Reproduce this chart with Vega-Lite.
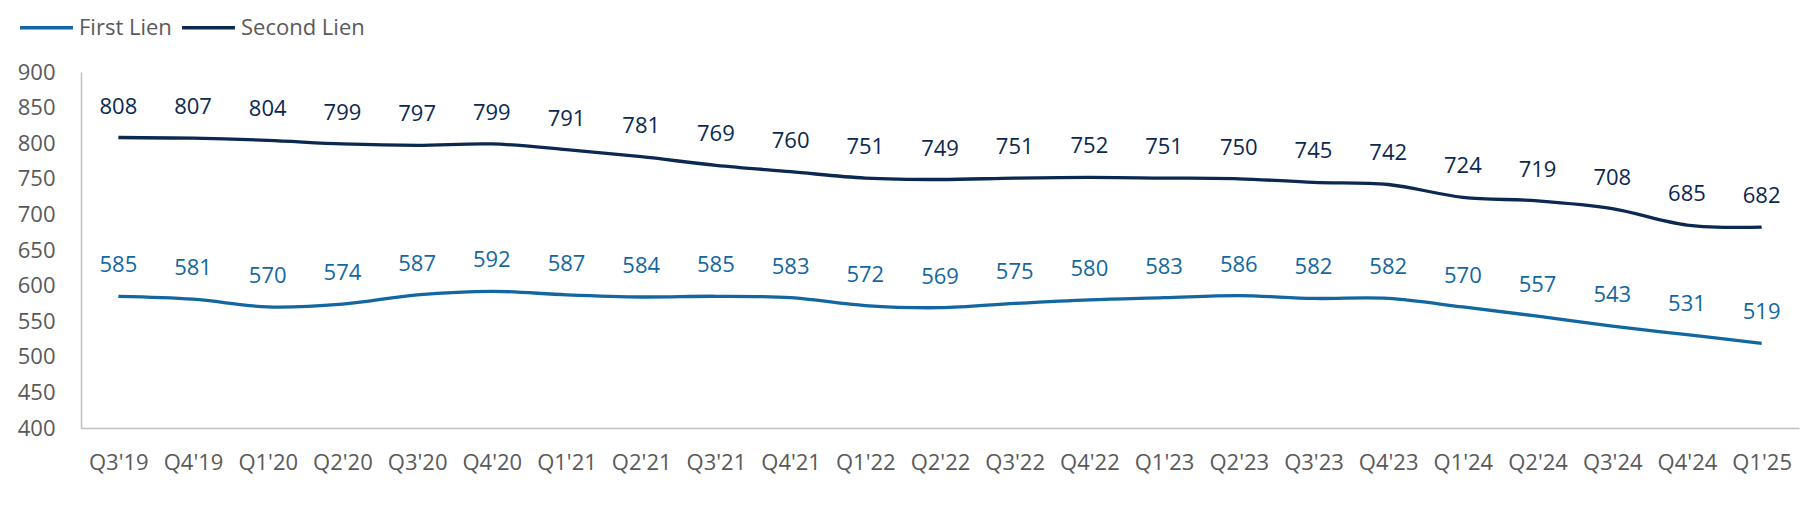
{
  "$schema": "https://vega.github.io/schema/vega-lite/v6.json",
  "width": 1718,
  "height": 356,
  "autosize": "none",
  "padding": {"left": 81, "top": 72, "right": 11, "bottom": 102},
  "background": "white",
  "config": {
    "view": {"stroke": null},
    "font": "Open Sans"
  },
  "data": {
    "values": [
      {"q": "Q3'19", "s": "First Lien", "v": 585}, {"q": "Q3'19", "s": "Second Lien", "v": 808},
      {"q": "Q4'19", "s": "First Lien", "v": 581}, {"q": "Q4'19", "s": "Second Lien", "v": 807},
      {"q": "Q1'20", "s": "First Lien", "v": 570}, {"q": "Q1'20", "s": "Second Lien", "v": 804},
      {"q": "Q2'20", "s": "First Lien", "v": 574}, {"q": "Q2'20", "s": "Second Lien", "v": 799},
      {"q": "Q3'20", "s": "First Lien", "v": 587}, {"q": "Q3'20", "s": "Second Lien", "v": 797},
      {"q": "Q4'20", "s": "First Lien", "v": 592}, {"q": "Q4'20", "s": "Second Lien", "v": 799},
      {"q": "Q1'21", "s": "First Lien", "v": 587}, {"q": "Q1'21", "s": "Second Lien", "v": 791},
      {"q": "Q2'21", "s": "First Lien", "v": 584}, {"q": "Q2'21", "s": "Second Lien", "v": 781},
      {"q": "Q3'21", "s": "First Lien", "v": 585}, {"q": "Q3'21", "s": "Second Lien", "v": 769},
      {"q": "Q4'21", "s": "First Lien", "v": 583}, {"q": "Q4'21", "s": "Second Lien", "v": 760},
      {"q": "Q1'22", "s": "First Lien", "v": 572}, {"q": "Q1'22", "s": "Second Lien", "v": 751},
      {"q": "Q2'22", "s": "First Lien", "v": 569}, {"q": "Q2'22", "s": "Second Lien", "v": 749},
      {"q": "Q3'22", "s": "First Lien", "v": 575}, {"q": "Q3'22", "s": "Second Lien", "v": 751},
      {"q": "Q4'22", "s": "First Lien", "v": 580}, {"q": "Q4'22", "s": "Second Lien", "v": 752},
      {"q": "Q1'23", "s": "First Lien", "v": 583}, {"q": "Q1'23", "s": "Second Lien", "v": 751},
      {"q": "Q2'23", "s": "First Lien", "v": 586}, {"q": "Q2'23", "s": "Second Lien", "v": 750},
      {"q": "Q3'23", "s": "First Lien", "v": 582}, {"q": "Q3'23", "s": "Second Lien", "v": 745},
      {"q": "Q4'23", "s": "First Lien", "v": 582}, {"q": "Q4'23", "s": "Second Lien", "v": 742},
      {"q": "Q1'24", "s": "First Lien", "v": 570}, {"q": "Q1'24", "s": "Second Lien", "v": 724},
      {"q": "Q2'24", "s": "First Lien", "v": 557}, {"q": "Q2'24", "s": "Second Lien", "v": 719},
      {"q": "Q3'24", "s": "First Lien", "v": 543}, {"q": "Q3'24", "s": "Second Lien", "v": 708},
      {"q": "Q4'24", "s": "First Lien", "v": 531}, {"q": "Q4'24", "s": "Second Lien", "v": 685},
      {"q": "Q1'25", "s": "First Lien", "v": 519}, {"q": "Q1'25", "s": "Second Lien", "v": 682}
    ]
  },
  "encoding": {
    "x": {
      "field": "q", "type": "ordinal", "sort": null,
      "scale": {"type": "point", "padding": 0.5},
      "axis": {
        "title": null, "labelAngle": 0, "ticks": false, "labelPadding": 24,
        "labelFontSize": 22, "labelColor": "#595959", "labelFont": "Open Sans",
        "domainColor": "#BFBFBF", "domainWidth": 1.5, "grid": false
      }
    },
    "y": {
      "field": "v", "type": "quantitative",
      "scale": {"domain": [400, 900], "nice": false, "zero": false},
      "axis": {
        "title": null, "values": [400, 450, 500, 550, 600, 650, 700, 750, 800, 850, 900],
        "ticks": false, "labelPadding": 26, "grid": false,
        "labelFontSize": 22, "labelColor": "#595959", "labelFont": "Open Sans",
        "domainColor": "#BFBFBF", "domainWidth": 1.5
      }
    },
    "color": {
      "field": "s", "type": "nominal",
      "scale": {"domain": ["First Lien", "Second Lien"], "range": ["#1367A1", "#0B2850"]},
      "legend": {
        "title": null, "orient": "none", "direction": "horizontal",
        "legendX": -63, "legendY": -73, "padding": 0,
        "symbolType": "stroke", "symbolSize": 2800, "symbolStrokeWidth": 3.5,
        "labelFontSize": 22, "labelColor": "#595959", "labelFont": "Open Sans",
        "labelOffset": 4, "columnPadding": 3
      }
    }
  },
  "layer": [
    {
      "mark": {"type": "line", "strokeWidth": 3.3, "interpolate": "catmull-rom"}
    },
    {
      "mark": {"type": "text", "dy": -31, "fontSize": 22, "font": "Open Sans"},
      "encoding": {"text": {"field": "v", "type": "quantitative"}}
    }
  ]
}
